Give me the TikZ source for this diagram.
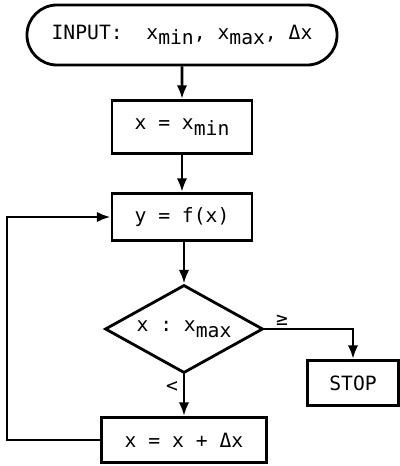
\documentclass[tikz,border=0pt]{standalone}
\usepackage{fontspec}
\setmonofont{DejaVu Sans Mono}
\usetikzlibrary{arrows.meta,shapes.geometric,shapes.misc}
\newcommand{\lowsub}[1]{\raisebox{-0.55ex}{#1}}

\begin{document}
\begin{tikzpicture}[x=0.025cm, y=-0.025cm, line width=2pt,
	every node/.style={font=\ttfamily\fontsize{14}{16}\selectfont},
	>={Latex[length=3.4mm, width=2.6mm]},
	box/.style={draw, rectangle, inner sep=0pt},
	term/.style={draw, rounded rectangle, inner sep=0pt, minimum width=7.75cm, minimum height=1.5cm},
	test/.style={draw, diamond, shape aspect=2, inner sep=0pt, minimum width=3.95cm, minimum height=2.2cm}]
	\useasboundingbox (0,0) rectangle (400,466);
	\node[term] (inp) at (182,35) {INPUT:~~x\lowsub{min}, x\lowsub{max}, Δx};
	\node[box, minimum width=3.5cm, minimum height=1.33cm] (init) at (182,127) {x = x\lowsub{min}};
	\node[box, minimum width=3.5cm, minimum height=1.18cm] (comp) at (182,217) {y = f(x)};
	\node[test] (cmp) at (184,329) {x : x\lowsub{max}};
	\node[box, minimum width=2.28cm, minimum height=1.13cm] (stop) at (353,383) {STOP};
	\node[box, minimum width=4.12cm, minimum height=1.13cm] (incr) at (184,440) {x = x + Δx};
	\coordinate (back) at (7,440);
	\foreach \a/\b in {inp/init, init/comp} {\draw[->] (\a) -- (\b);}
	\draw[->] (comp.south -| cmp.north) -- (cmp.north);
	\draw[->] (cmp.east) -| (stop.north) node[pos=0.1, above, yshift=-2pt] {≥};
	\draw[->] (cmp.south) -- (incr.north) node[pos=0.3, left] {<};
	\draw[->] (incr.west) -- (back) |- (comp.west);
\end{tikzpicture}
\end{document}
